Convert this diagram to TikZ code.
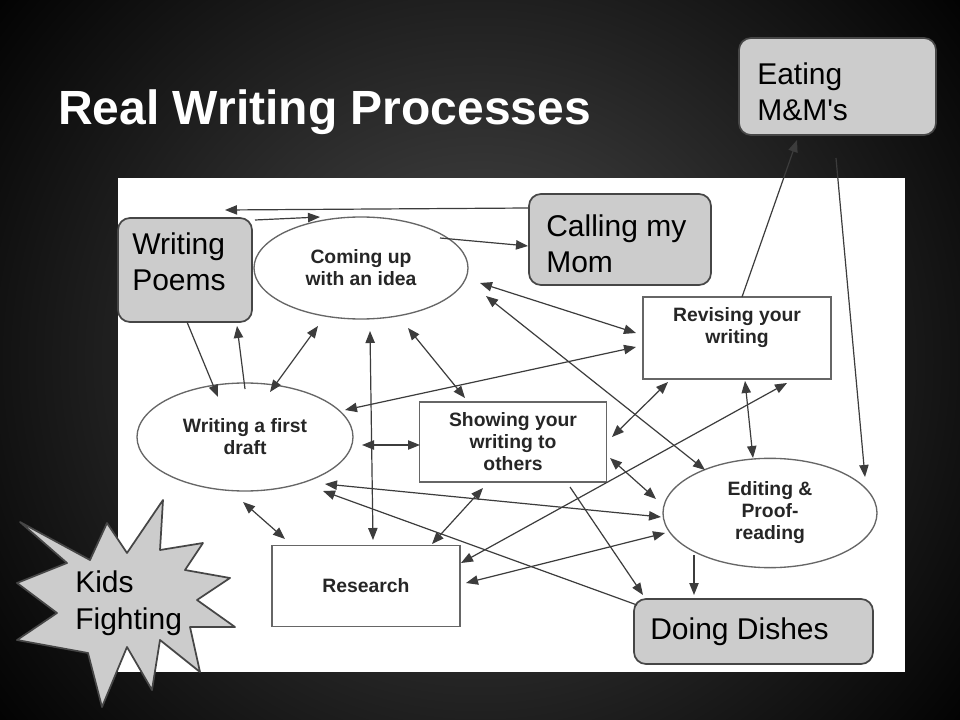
\documentclass[tikz,border=0pt]{standalone}
\usepackage{fontspec}
\setmainfont{Liberation Sans}
\usetikzlibrary{shapes.geometric,arrows.meta}
\definecolor{boxgray}{RGB}{204,204,204}
\definecolor{boxedge}{RGB}{70,70,70}
\definecolor{lnc}{RGB}{60,60,60}
\begin{document}
\begin{tikzpicture}[x=0.75pt,y=-0.75pt,
  ptext/.style={font=\fontsize{14.5}{16.5}\selectfont\bfseries,text=black!85,align=center},
  proc/.style={draw=black!60,line width=1pt,fill=white,ptext,inner sep=0pt},
  ell/.style={proc,ellipse},
  rect/.style={proc,rectangle},
  gbox/.style={draw=boxedge,line width=1.3pt,fill=boxgray,rounded corners=9pt},
  gtext/.style={align=left,font=\fontsize{22.5}{27}\selectfont,text=black,inner sep=0pt},
  con/.style={draw=lnc,line width=0.9pt,-{Triangle[length=9pt,width=7pt]}},
  bi/.style={draw=lnc,line width=0.9pt,{Triangle[length=9pt,width=7pt]}-{Triangle[length=9pt,width=7pt]}}]
\useasboundingbox (0,0) rectangle (960,720);
\shade[inner color=black!70,outer color=black,shading=radial] (-150,-250) rectangle (1110,970);
\node[anchor=west,text=white,font=\fontsize{36}{40}\selectfont\bfseries,inner sep=0pt] (title) at (58,112) {Real Writing Processes};
\fill[white] (118,178) rectangle (905,672);
% process nodes
\node[ell,minimum width=160.5pt,minimum height=76.5pt] (idea) at (361,268) {Coming up\\with an idea};
\node[ell,minimum width=162pt,minimum height=81pt] (draft) at (245,437) {Writing a first\\draft};
\node[rect,minimum width=140pt,minimum height=60pt] (show) at (513,442) {Showing your\\writing to\\others};
\node[rect,minimum width=141pt,minimum height=61.5pt] (rev) at (737,338) {};
\node[ptext] (revt) at (737,328) {Revising your\\writing};
\node[ell,minimum width=160.5pt,minimum height=82pt] (edit) at (770,513) {Editing \&\\Proof-\\reading};
\node[rect,minimum width=141pt,minimum height=61pt] (res) at (366,586) {Research};
% gray boxes
\draw[gbox] (118,218) rectangle (252,322); \node[anchor=north west,gtext] (poems) at (132,232) {Writing\\Poems};
\draw[gbox] (529,194) rectangle (711,285); \node[anchor=north west,gtext] (mom) at (546,214) {Calling my\\Mom};
\draw[gbox] (739,38) rectangle (936,135); \node[anchor=north west,gtext] (mm) at (757,62) {Eating\\M\&M\textquotesingle s};
\draw[gbox] (634,599) rectangle (873,664); \node[anchor=west,gtext] (dish) at (650,632) {Doing Dishes};
\draw[draw=boxedge,line width=1.3pt,fill=boxgray,line join=round] (163,500)--(160,550)--(203,543)--(185,570)--(230,578)--(197,600)--(235,627)--(190,627)--(200,672)--(160,640)--(152,690)--(127,647)--(102,707)--(88,653)--(17,640)--(57,613)--(17,583)--(67,563)--(20,522)--(90,560)--(107,523)--(127,553)--cycle;
\node[anchor=north west,gtext,font=\fontsize{22.5}{28}\selectfont] (kids) at (75,570) {Kids\\Fighting};
% connectors
\coordinate (c1) at (528,208); \coordinate (c2) at (225,210);
\draw[con] (c1) -- (c2);
\draw[con] (255,220) -- (320,217);
\draw[con] (440,238) -- (528,246);
\draw[bi] (480,283) -- (636,333);
\draw[bi] (486,296) -- (705,470);
\draw[bi] (270,392) -- (318,326);
\draw[bi] (370,331) -- (373,540);
\draw[bi] (408,328) -- (465,398);
\draw[bi] (345,410) -- (636,347);
\draw[bi] (362,445) -- (420,445);
\draw[bi] (325,484) -- (661,517);
\draw[bi] (243,502) -- (285,539);
\draw[con] (187,322) -- (218,397);
\draw[con] (245,389) -- (237,326);
\draw[bi] (612,437) -- (668,382);
\draw[bi] (432,544) -- (483,488);
\draw[bi] (461,563) -- (787,383);
\draw[bi] (466,583) -- (665,533);
\draw[bi] (610,458) -- (656,499);
\draw[bi] (745,381) -- (753,458);
\draw[con] (742,297) -- (797,140);
\draw[con] (836,158) -- (865,477);
\draw[con] (570,487) -- (643,595);
\draw[con] (694,555) -- (694,595);
\draw[con] (637,605) -- (323,491);
\end{tikzpicture}
\end{document}
